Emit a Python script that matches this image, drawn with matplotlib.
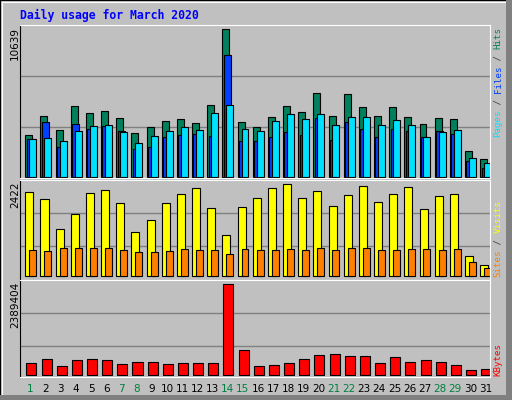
import matplotlib.pyplot as plt
from matplotlib.patches import Rectangle
import numpy as np

days = list(range(1, 32))
weekend = [1, 7, 8, 14, 15, 21, 22, 28, 29]

hits = [2988, 4360, 3349, 5081, 4576, 4720, 4215, 3132, 3566, 3999, 4143, 3854, 5154, 10639, 3927, 3566,
        4288, 5081, 4648, 6020, 4360, 5948, 5009, 4360, 5009, 4288, 3782, 4215, 4143, 1833, 1256]
files = [2700, 3927, 2122, 3782, 3421, 3638, 3277, 1978, 2122, 2844, 2988, 3060, 2916, 8763, 2555, 2555,
         2844, 3205, 2988, 4215, 2627, 3927, 3421, 2844, 3421, 3277, 2844, 3277, 3060, 1112, 606]
pages = [2700, 2772, 2555, 3277, 3638, 3710, 3205, 2411, 2916, 3277, 3566, 3349, 4576, 5154, 3421, 3277,
         3999, 4504, 4143, 4504, 3710, 4288, 4288, 3710, 4071, 3710, 2844, 3205, 3349, 1328, 967]
sites = [2212, 2027, 1237, 1632, 2185, 2264, 1922, 1158, 1474, 1922, 2159, 2317, 1790, 1079, 1817, 2054,
         2317, 2422, 2054, 2238, 1843, 2133, 2370, 1948, 2159, 2343, 1764, 2106, 2159, 527, 290]
visits = [685, 658, 737, 737, 737, 737, 685, 632, 632, 658, 711, 685, 685, 579, 711, 685,
          685, 711, 685, 737, 685, 737, 737, 685, 685, 711, 711, 685, 711, 386, 211]
kbytes = [322640, 427280, 244160, 401120, 427280, 401120, 296480, 348800, 348800, 296480, 322640, 322640,
          322640, 2389404, 662720, 244160, 270320, 322640, 427280, 531920, 558080, 505760, 505760, 322640,
          479600, 348800, 401120, 348800, 270320, 139520, 165680]

BG = '#C0C0C0'
C_HITS, C_FILES, C_PAGES = '#00805C', '#0040FF', '#00E0FF'
C_SITES, C_VISITS, C_KB = '#FFFF00', '#FF8000', '#FF0000'
W, H = 512, 400

fig = plt.figure(figsize=(5.12, 4.0), dpi=100, facecolor=BG)

# 3D-ish outer frame
fig.patches.append(Rectangle((0, 0), 1, 1, transform=fig.transFigure, fill=False, ec='black', lw=1.5))
fig.patches.append(Rectangle((0.004, 0.006), 0.99, 0.988, transform=fig.transFigure, fill=False, ec='white', lw=0.8))
fig.patches.append(Rectangle((0, 0), 1, 0.012, transform=fig.transFigure, color='#808080', lw=0))
fig.patches.append(Rectangle((0.988, 0), 0.012, 1, transform=fig.transFigure, color='#808080', lw=0))


def add_ax(top, bottom):
    ax = fig.add_axes([20 / W, 1 - bottom / H, 470 / W, (bottom - top) / H])
    ax.set_facecolor(BG)
    ax.set_xlim(0, 31)
    ax.set_xticks([])
    ax.set_yticks([])
    for s in ['top', 'right', 'bottom']:
        ax.spines[s].set_color('white')
    ax.spines['left'].set_color('black')
    return ax


x0 = np.arange(31)
ek = dict(edgecolor='black', linewidth=0.8, align='edge')

ax1 = add_ax(25, 178)
ax1.set_ylim(-94, 10949)
for g in [3587, 7268]:
    ax1.axhline(g, color='#808080', lw=1, zorder=0)
ax1.bar(x0 + 0.35, hits, 0.46, color=C_HITS, **ek)
ax1.bar(x0 + 0.44, files, 0.46, color=C_FILES, **ek)
ax1.bar(x0 + 0.61, pages, 0.46, color=C_PAGES, **ek)

ax2 = add_ax(180, 280)
ax2.set_ylim(-97, 2535)
for g in [790, 1659]:
    ax2.axhline(g, color='#808080', lw=1, zorder=0)
ax2.bar(x0 + 0.35, sites, 0.53, color=C_SITES, **ek)
ax2.bar(x0 + 0.61, visits, 0.46, color=C_VISITS, **ek)

ax3 = add_ax(280, 377)
ax3.set_ylim(-52000, 2501800)
for g in [767360, 1630640]:
    ax3.axhline(g, color='#808080', lw=1, zorder=0)
ax3.bar(x0 + 0.42, kbytes, 0.66, color=C_KB, **ek)

mono = 'DejaVu Sans Mono'
fig.text(20 / W, 1 - 15 / H, 'Daily usage for March 2020', color='#0000FF', family=mono,
         weight='bold', fontsize=8.3, va='center', ha='left')

# max labels on the left
for txt, ytop in [(str(max(hits)), 27), (str(max(sites)), 181), (str(max(kbytes)), 282)]:
    fig.text(15 / W, 1 - ytop / H, txt, rotation=90, ha='center', va='top', fontsize=7.5, color='black')

# coloured legend text on the right
CH = 5.5
def side_label(pieces, ybottom):
    pos = 0
    for txt, col in pieces:
        fig.text(498 / W, 1 - (ybottom - pos * CH) / H, txt, rotation=90, ha='center', va='bottom',
                 color=col, family=mono, fontsize=6.6)
        pos += len(txt)

side_label([('Pages', C_PAGES), (' / ', '#404040'), ('Files', C_FILES), (' / ', '#404040'), ('Hits', C_HITS)], 137)
side_label([('Sites', C_VISITS), (' / ', '#404040'), ('Visits', C_SITES)], 277)
side_label([('KBytes', C_KB)], 376)

for d in days:
    fig.text((20 + (d - 0.5) * 470 / 31 + 3) / W, 1 - 389 / H, str(d), ha='center', va='center', fontsize=7.5,
             color='#008040' if d in weekend else 'black')

fig.savefig('out.png', dpi=100, facecolor=BG)
